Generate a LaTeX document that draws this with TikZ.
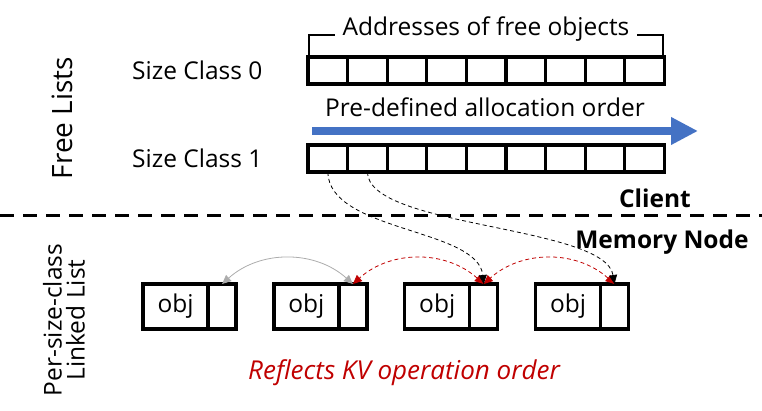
\documentclass[tikz,border=0pt]{standalone}
\usepackage{fontspec}
\setmainfont{Open Sans}
\usetikzlibrary{arrows.meta,positioning,calc}

\definecolor{flowblue}{RGB}{68,114,196}
\definecolor{kvred}{RGB}{192,0,0}

\begin{document}
\begin{tikzpicture}[
  x=1pt, y=-1pt,
  font=\fontsize{24.5}{29}\selectfont,
  cell/.style={draw, line width=3.2pt, minimum width=39.6pt, minimum height=27pt, inner sep=0pt, outer sep=0pt},
  objbox/.style={draw, line width=3.4pt, minimum width=65pt, minimum height=45pt, inner sep=0pt, outer sep=0pt},
  ptrbox/.style={objbox, minimum width=28pt},
  fetch/.style={-{Triangle[length=9pt, width=8pt]}, dash pattern=on 4pt off 3pt, thick},
  order/.style={{Triangle[length=9pt, width=8pt]}-{Triangle[length=9pt, width=8pt]}, dash pattern=on 4pt off 3pt, thick, kvred},
  stale/.style={{Triangle[length=9pt, width=8pt]}-{Triangle[length=9pt, width=8pt]}, thick, gray!65},
  side/.style={rotate=90, align=center},
  tag/.style={font=\fontsize{24.5}{29}\selectfont\bfseries},
]
  \useasboundingbox (0,0) rectangle (762,411);

  % free lists on the client
  \foreach \i in {0,...,8} {
    \node[cell] (a\i) at (327.8+39.6*\i, 70.5) {};
    \node[cell] (b\i) at (327.8+39.6*\i, 158.5) {};
  }
  \node[left=42pt of a0] (sc0) {Size Class 0};
  \node[left=42pt of b0] (sc1) {Size Class 1};
  \node[side, font=\fontsize{28}{32}\selectfont] (fl) at (62,118) {Free Lists};

  % brace over the first list
  \node (addr) at (486,29) {Addresses of free objects};
  \draw[line width=2pt] (a0.north west) ++(1,-2) |- ($(addr.west)+(-4,6)$);
  \draw[line width=2pt] (a8.north east) ++(-1,-2) |- ($(addr.east)+(4,6)$);

  % allocation order
  \node (pre) at (485,107) {Pre-defined allocation order};
  \coordinate (ostart) at (312,131);
  \coordinate (oend) at (698,131);
  \draw[flowblue, line width=8pt, -{Triangle[length=27pt, width=26pt]}] (ostart) -- (oend);

  % client / memory node split
  \node[tag] (cli) at (655,198) {Client};
  \coordinate (sl) at (0,216);
  \coordinate (sr) at (762,216);
  \draw[line width=3pt, dash pattern=on 14pt off 9pt] (sl) -- (sr);
  \node[tag] (mn) at (662,242) {Memory Node};

  % linked list of objects
  \foreach \k in {1,...,4} {
    \node[objbox] (o\k) at (44.8+130.8*\k, 306.5) {obj};
    \node[ptrbox, right=0pt of o\k] (p\k) {};
  }
  \node[side] (ll) at (64,320) {Per-size-class\\[-6pt]Linked List};

  \draw[stale] (p2.north) to[bend right=42] (p1.north);
  \draw[order] (p3.north) to[bend right=42] (p2.north);
  \draw[order] (p4.north) to[bend right=42] (p3.north);

  \draw[fetch] (b0.south) .. controls (329,232) and (478,228) .. (p3.north);
  \draw[fetch] (b1.south) .. controls (368,228) and (605,225) .. (p4.north);

  \node[kvred, font=\fontsize{26}{30}\selectfont\itshape] (kv) at (404,373) {Reflects KV operation order};
\end{tikzpicture}
\end{document}
